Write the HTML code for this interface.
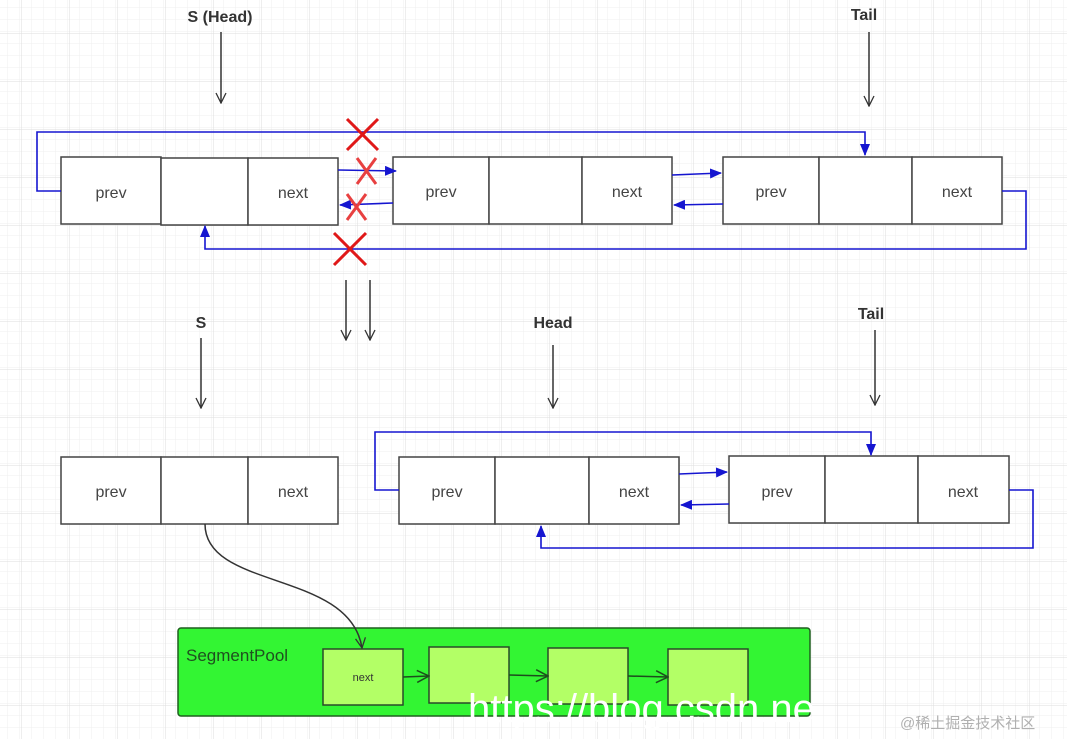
<!DOCTYPE html>
<html><head><meta charset="utf-8">
<style>
html,body{margin:0;padding:0;}
body{width:1067px;height:739px;overflow:hidden;background:#fff;}
svg{display:block;}
text{font-family:"Liberation Sans","Noto Sans CJK SC",sans-serif;}
</style></head>
<body>
<svg width="1067" height="739" viewBox="0 0 1067 739" xmlns="http://www.w3.org/2000/svg">
<defs>
<pattern id="mg" width="12" height="12" patternUnits="userSpaceOnUse" x="10" y="10">
<path d="M12 0V12M0 12H12" fill="none" stroke="#efefef" stroke-width="1"/>
</pattern>
<pattern id="Mg" width="48" height="48" patternUnits="userSpaceOnUse" x="22" y="34">
<rect width="48" height="48" fill="url(#mg)"/>
<path d="M48 0V48M0 48H48" fill="none" stroke="#dedede" stroke-width="1"/>
</pattern>
<marker id="bl" markerWidth="12" markerHeight="10" refX="11" refY="5" orient="auto" markerUnits="userSpaceOnUse">
<path d="M0,0 L12,5 L0,10 Z" fill="#1515d0"/>
</marker>
<marker id="ka" markerWidth="12" markerHeight="12" refX="11" refY="6" orient="auto" markerUnits="userSpaceOnUse">
<path d="M1,1 L11,6 L1,11" fill="none" stroke="#333" stroke-width="1.3"/>
</marker>
<marker id="ga" markerWidth="14" markerHeight="14" refX="13" refY="7" orient="auto" markerUnits="userSpaceOnUse">
<path d="M1,1 L13,7 L1,13" fill="none" stroke="#1d4d1d" stroke-width="1.5"/>
</marker>
</defs>
<rect width="1067" height="739" fill="url(#Mg)"/>

<g font-size="16" fill="#333">
<text x="220" y="22" text-anchor="middle" font-weight="bold" font-size="16">S (Head)</text>
<text x="864" y="20" text-anchor="middle" font-weight="bold" font-size="16">Tail</text>
<text x="201" y="328" text-anchor="middle" font-weight="bold" font-size="16">S</text>
<text x="553" y="328" text-anchor="middle" font-weight="bold" font-size="16">Head</text>
<text x="871" y="319" text-anchor="middle" font-weight="bold" font-size="16">Tail</text>
</g>

<g stroke="#333" stroke-width="1.5" fill="none" marker-end="url(#ka)">
<line x1="221" y1="32" x2="221" y2="103"/>
<line x1="869" y1="32" x2="869" y2="106"/>
<line x1="346" y1="280" x2="346" y2="340"/>
<line x1="370" y1="280" x2="370" y2="340"/>
<line x1="201" y1="338" x2="201" y2="408"/>
<line x1="553" y1="345" x2="553" y2="408"/>
<line x1="875" y1="330" x2="875" y2="405"/>
</g>

<g fill="#fff" stroke="#444" stroke-width="1.5">
<rect x="61" y="157" width="100" height="67"/><rect x="161" y="158" width="87" height="67"/><rect x="248" y="158" width="90" height="67"/>
<rect x="393" y="157" width="96" height="67"/><rect x="489" y="157" width="93" height="67"/><rect x="582" y="157" width="90" height="67"/>
<rect x="723" y="157" width="96" height="67"/><rect x="819" y="157" width="93" height="67"/><rect x="912" y="157" width="90" height="67"/>
<rect x="61" y="457" width="100" height="67"/><rect x="161" y="457" width="87" height="67"/><rect x="248" y="457" width="90" height="67"/>
<rect x="399" y="457" width="96" height="67"/><rect x="495" y="457" width="94" height="67"/><rect x="589" y="457" width="90" height="67"/>
<rect x="729" y="456" width="96" height="67"/><rect x="825" y="456" width="93" height="67"/><rect x="918" y="456" width="91" height="67"/>
</g>
<g font-size="16" fill="#444" text-anchor="middle">
<text x="111" y="198">prev</text><text x="293" y="198">next</text>
<text x="441" y="197">prev</text><text x="627" y="197">next</text>
<text x="771" y="197">prev</text><text x="957" y="197">next</text>
<text x="111" y="497">prev</text><text x="293" y="497">next</text>
<text x="447" y="497">prev</text><text x="634" y="497">next</text>
<text x="777" y="497">prev</text><text x="963" y="497">next</text>
</g>

<g stroke="#1515d0" stroke-width="1.6" fill="none">
<path d="M61 191 H37 V132 H865 V155" marker-end="url(#bl)"/>
<path d="M1002 191 H1026 V249 H205 V226" marker-end="url(#bl)"/>
<line x1="338" y1="170" x2="396" y2="171" marker-end="url(#bl)"/>
<line x1="393" y1="203" x2="340" y2="205" marker-end="url(#bl)"/>
<line x1="672" y1="175" x2="721" y2="173" marker-end="url(#bl)"/>
<line x1="723" y1="204" x2="674" y2="205" marker-end="url(#bl)"/>
<path d="M399 490 H375 V432 H871 V455" marker-end="url(#bl)"/>
<path d="M1009 490 H1033 V548 H541 V526" marker-end="url(#bl)"/>
<line x1="679" y1="474" x2="727" y2="472" marker-end="url(#bl)"/>
<line x1="729" y1="504" x2="681" y2="505" marker-end="url(#bl)"/>
</g>

<g stroke="#e01818" stroke-width="3" fill="none">
<path d="M347 119 L378 150 M378 119 L347 150"/>
<path d="M357 158 L376 184 M376 158 L357 184" stroke="#e84040"/>
<path d="M347 194 L366 220 M366 194 L347 220" stroke="#e84040"/>
<path d="M334 233 L366 265 M366 233 L334 265"/>
</g>

<rect x="178" y="628" width="632" height="88" rx="3" fill="#33f533" stroke="#1f5f1f" stroke-width="1.5"/>
<text x="186" y="661" font-size="17" fill="#1f4f1f">SegmentPool</text>
<g fill="#b3ff66" stroke="#2a4a2a" stroke-width="1.5">
<rect x="323" y="649" width="80" height="56"/>
<rect x="429" y="647" width="80" height="56"/>
<rect x="548" y="648" width="80" height="56"/>
<rect x="668" y="649" width="80" height="56"/>
</g>
<text x="363" y="681" font-size="11" fill="#333" text-anchor="middle">next</text>
<g stroke="#1d4d1d" stroke-width="1.5" fill="none" marker-end="url(#ga)">
<line x1="403" y1="677" x2="429" y2="676"/>
<line x1="509" y1="675" x2="548" y2="676"/>
<line x1="628" y1="676" x2="668" y2="677"/>
</g>
<path d="M205 524 C205 590, 350 570, 362 648" stroke="#333" stroke-width="1.5" fill="none" marker-end="url(#ka)"/>

<text x="468" y="722" font-size="40" fill="#ffffff">https://blog.csdn.ne</text>
<text x="900" y="728" font-size="15" fill="#b0b0b0">@稀土掘金技术社区</text>
</svg>
</body></html>
